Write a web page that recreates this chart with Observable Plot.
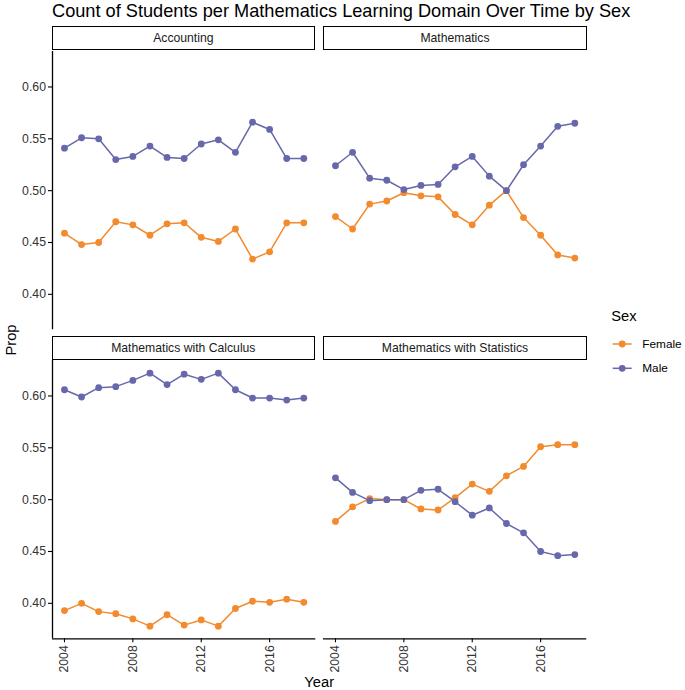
<!DOCTYPE html>
<html>
<head>
<meta charset="utf-8">
<script src="https://cdn.jsdelivr.net/npm/d3@7"></script>
<script src="https://cdn.jsdelivr.net/npm/@observablehq/plot@0.6"></script>
<style>
  body { margin: 0; background: #fff; }
  #root { position: relative; width: 685px; height: 690px; background: #fff; overflow: hidden;
          font-family: "Liberation Sans", Arial, Helvetica, sans-serif; }
  #root svg { position: absolute; overflow: visible; }
  .strip { position: absolute; box-sizing: border-box; border: 1.3px solid #000; background: #fff;
           font-size: 12.2px; color: #1a1a1a; display: flex; align-items: center; justify-content: center; }
</style>
</head>
<body>
<div id="root"></div>
<script>
// ---- data ----
const years = [2004, 2005, 2006, 2007, 2008, 2009, 2010, 2011, 2012, 2013, 2014, 2015, 2016, 2017, 2018];
const domains = ["Accounting", "Mathematics", "Mathematics with Calculus", "Mathematics with Statistics"];
const sexes = ["Female", "Male"];
const colors = ["#F28A2E", "#6767AB"];

const maleAccounting   = [0.541, 0.551, 0.550, 0.530, 0.533, 0.543, 0.532, 0.531, 0.545, 0.549, 0.537, 0.566, 0.559, 0.531, 0.531];
const femaleAccounting = [0.459, 0.448, 0.450, 0.470, 0.467, 0.457, 0.468, 0.469, 0.455, 0.451, 0.463, 0.434, 0.441, 0.469, 0.469];

const maleMathematics   = [0.524, 0.537, 0.512, 0.510, 0.501, 0.505, 0.506, 0.523, 0.533, 0.514, 0.500, 0.525, 0.543, 0.562, 0.565];
const femaleMathematics = [0.475, 0.463, 0.487, 0.490, 0.498, 0.495, 0.494, 0.477, 0.467, 0.486, 0.500, 0.474, 0.457, 0.438, 0.435];

const maleCalculus   = [0.606, 0.599, 0.608, 0.609, 0.615, 0.622, 0.611, 0.621, 0.616, 0.622, 0.606, 0.598, 0.598, 0.596, 0.598];
const femaleCalculus = [0.393, 0.400, 0.392, 0.390, 0.385, 0.378, 0.389, 0.379, 0.384, 0.378, 0.395, 0.402, 0.401, 0.404, 0.401];

const maleStatistics   = [0.521, 0.507, 0.499, 0.500, 0.500, 0.509, 0.510, 0.498, 0.485, 0.492, 0.477, 0.468, 0.450, 0.446, 0.447];
const femaleStatistics = [0.479, 0.493, 0.501, 0.500, 0.500, 0.491, 0.490, 0.502, 0.515, 0.508, 0.523, 0.532, 0.551, 0.553, 0.553];

const yTicks = [0.40, 0.45, 0.50, 0.55, 0.60];
const xTicks = [2004, 2008, 2012, 2016];

const titleText = "Count of Students per Mathematics Learning Domain Over Time by Sex";

// ---- table ----
const series = {
  "Accounting": [femaleAccounting, maleAccounting],
  "Mathematics": [femaleMathematics, maleMathematics],
  "Mathematics with Calculus": [femaleCalculus, maleCalculus],
  "Mathematics with Statistics": [femaleStatistics, maleStatistics]
};
const rows = [];
for (const dom of domains) {
  sexes.forEach((s, si) => {
    years.forEach((yr, i) => rows.push({domain: dom, sex: s, year: yr, prop: series[dom][si][i]}));
  });
}

// ggplot-like 5% expansion
function expand([a, b]) { const e = (b - a) * 0.05; return [a - e, b + e]; }
const xDomain = expand(d3.extent(years));
const yDomain = expand(d3.extent(rows, d => d.prop));

// ---- layout ----
const root = document.getElementById("root");
const W = 263.3, H = 278.3;
const colLeft = [51.7, 323.3];
const rowTop = [50.7, 360.0];
const stripTop = [26.2, 336.2];
const stripH = 23.6;
const mT = 6, mR = 8, mL0 = 52, mL1 = 8, mB0 = 6, mB1 = 50;

domains.forEach((dom, k) => {
  const c = k % 2, r = Math.floor(k / 2);
  const left = c === 0, bottom = r === 1;
  const mL = left ? mL0 : mL1, mB = bottom ? mB1 : mB0;
  const data = rows.filter(d => d.domain === dom);
  const chart = Plot.plot({
    width: mL + W + mR,
    height: mT + H + mB,
    marginLeft: mL, marginRight: mR, marginTop: mT, marginBottom: mB,
    style: {fontFamily: '"Liberation Sans", Arial, Helvetica, sans-serif', background: "transparent", overflow: "visible"},
    x: {domain: xDomain, axis: null, label: null},
    y: {domain: yDomain, axis: null, label: null},
    color: {domain: sexes, range: colors},
    marks: [
      left ? Plot.ruleX([xDomain[0]], {stroke: "#000", strokeWidth: 1.3}) : null,
      left ? Plot.axisY(yTicks, {tickSize: 4, tickPadding: 2.5, tickFormat: d3.format(".2f"), fontSize: 12.3, stroke: "#000", fill: "#333", label: null, strokeWidth: 1.1}) : null,
      bottom ? Plot.ruleY([yDomain[0]], {stroke: "#000", strokeWidth: 1.3}) : null,
      bottom ? Plot.axisX(xTicks, {tickSize: 4, tickPadding: 2.5, tickRotate: -90, tickFormat: d => String(d), fontSize: 12.3, stroke: "#000", fill: "#333", label: null, strokeWidth: 1.1}) : null,
      Plot.line(data, {x: "year", y: "prop", stroke: "sex", strokeWidth: 1.5}),
      Plot.dot(data, {x: "year", y: "prop", fill: "sex", r: 3.4})
    ]
  });
  chart.style.left = (colLeft[c] - mL) + "px";
  chart.style.top = (rowTop[r] - mT) + "px";
  root.appendChild(chart);

  const strip = document.createElement("div");
  strip.className = "strip";
  strip.style.left = colLeft[c] + "px";
  strip.style.top = stripTop[r] + "px";
  strip.style.width = W + "px";
  strip.style.height = stripH + "px";
  strip.textContent = dom;
  root.appendChild(strip);
});

// ---- overlay text: title, axis titles, legend ----
const ns = "http://www.w3.org/2000/svg";
const ov = document.createElementNS(ns, "svg");
ov.setAttribute("width", 685); ov.setAttribute("height", 690);
ov.style.left = "0px"; ov.style.top = "0px";
function txt(x, y, s, size, opts = {}) {
  const t = document.createElementNS(ns, "text");
  t.setAttribute("x", x); t.setAttribute("y", y);
  t.setAttribute("font-size", size);
  t.setAttribute("fill", opts.fill || "#000");
  t.setAttribute("font-family", '"Liberation Sans", Arial, Helvetica, sans-serif');
  if (opts.anchor) t.setAttribute("text-anchor", opts.anchor);
  if (opts.transform) t.setAttribute("transform", opts.transform);
  t.textContent = s;
  ov.appendChild(t);
  return t;
}
txt(52, 16.5, titleText, 18.2);
txt(319.2, 687, "Year", 14.7, {anchor: "middle"});
txt(0, 0, "Prop", 14.7, {anchor: "middle", transform: "translate(15.5,340) rotate(-90)"});
txt(611.3, 320.7, "Sex", 14.7);
const keyY = [344, 368.3];
sexes.forEach((s, i) => {
  const l = document.createElementNS(ns, "line");
  l.setAttribute("x1", 612.7); l.setAttribute("x2", 631.7);
  l.setAttribute("y1", keyY[i]); l.setAttribute("y2", keyY[i]);
  l.setAttribute("stroke", colors[i]); l.setAttribute("stroke-width", 1.5);
  ov.appendChild(l);
  const c = document.createElementNS(ns, "circle");
  c.setAttribute("cx", 622.2); c.setAttribute("cy", keyY[i]); c.setAttribute("r", 3.4);
  c.setAttribute("fill", colors[i]);
  ov.appendChild(c);
  txt(642.3, keyY[i] + 4, s, 11.8);
});
root.appendChild(ov);
</script>
</body>
</html>
